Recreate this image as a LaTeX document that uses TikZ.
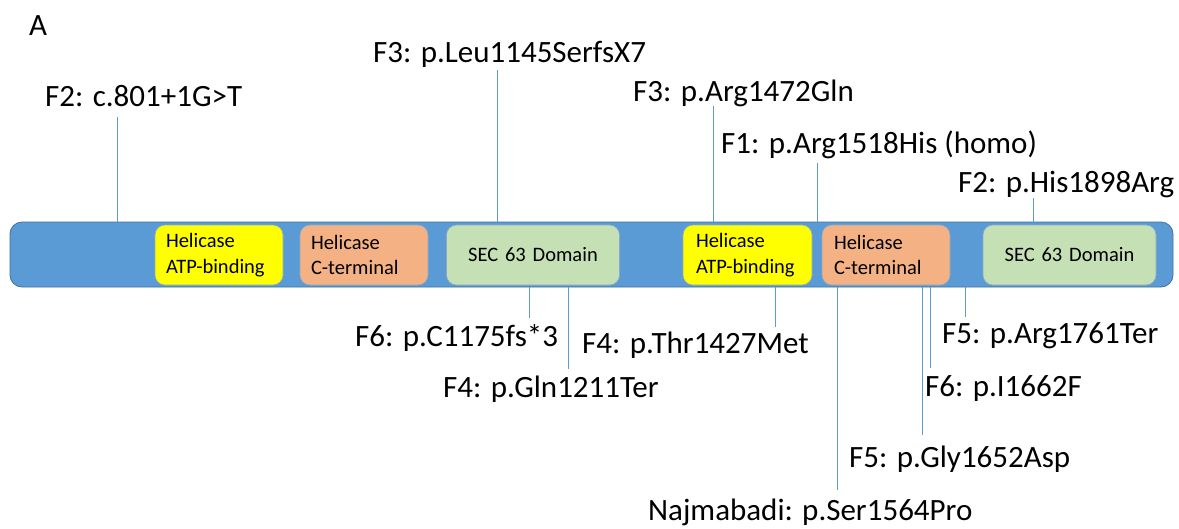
\documentclass[tikz,border=0pt]{standalone}
\usepackage{fontspec}
\setmainfont{Carlito}
\usepackage{xcolor}
\usepackage{tikz}
\usetikzlibrary{positioning}
\definecolor{barblue}{HTML}{5B9BD5}
\definecolor{barline}{HTML}{41719C}
\definecolor{helyellow}{HTML}{FFFF00}
\definecolor{helorange}{HTML}{F4B183}
\definecolor{secgreen}{HTML}{C5E0B4}

\begin{document}
\begin{tikzpicture}[x=1pt,y=-1pt]
\tikzstyle{mut} = [inner sep=0pt, anchor=base west, font=\fontsize{31}{36}\selectfont]
\tikzstyle{dom} = [draw=barline!60, line width=.6pt, rounded corners=10pt, minimum height=60pt, inner ysep=0pt, font=\fontsize{20.5}{25.5}\selectfont]
\tikzstyle{helbox} = [dom, align=left, inner xsep=11pt, text width=106pt]
\tikzstyle{secbox} = [dom, align=center, inner xsep=0pt, text width=173pt]
\tikzstyle{stem} = [barblue, line width=.9pt]
\useasboundingbox (0,0) rectangle (1179,528);

  \node (panel) [font=\fontsize{31}{36}\selectfont, inner sep=0pt, anchor=base west] at (29,35) {A};

  % protein bar
  \draw [fill=barblue, draw=barline, line width=.8pt, rounded corners=12pt] (10,222) rectangle (1173,287);
  \node (bar) [inner sep=0pt, minimum width=1163pt, minimum height=65pt] at (591.5,254.5) {};

  % domains
  \draw
  node (atp1) [helbox, fill=helyellow] at (219,255) {Helicase\\ATP-binding}
  node (ct1) [helbox, fill=helorange] at (364,255) {Helicase\\C-terminal}
  node (sec1) [secbox, fill=secgreen] at (533,255) {SEC 63 Domain}
  node (atp2) [helbox, fill=helyellow, inner xsep=13pt, text width=103pt] at (747.5,255) {Helicase\\ATP-binding}
  node (ct2) [helbox, fill=helorange, inner xsep=12pt, text width=104pt] at (886,255) {Helicase\\C-terminal}
  node (sec2) [secbox, fill=secgreen] at (1069.5,255) {SEC 63 Domain};

  % mutations above the bar
  \draw
  node (m1) [mut] at (45,106) {F2: c.801+1G>T}
  node (m2) [mut] at (373,62) {F3: p.Leu1145SerfsX7}
  node (m3) [mut] at (633,101) {F3: p.Arg1472Gln}
  node (m4) [mut] at (721,153) {F1: p.Arg1518His (homo)}
  node (m5) [mut] at (958,192) {F2: p.His1898Arg};

  % mutations below the bar
  \draw
  node (m6) [mut] at (355,346) {F6: p.C1175fs*3}
  node (m7) [mut] at (443,397) {F4: p.Gln1211Ter}
  node (m8) [mut] at (582,353) {F4: p.Thr1427Met}
  node (m9) [mut] at (648,520) {Najmabadi: p.Ser1564Pro}
  node (m10) [mut] at (849,467) {F5: p.Gly1652Asp}
  node (m11) [mut] at (925,396) {F6: p.I1662F}
  node (m12) [mut] at (942,343) {F5: p.Arg1761Ter};

  % sites on the bar and free ends of the stems
  \coordinate (s1) at (117,222);   \coordinate (t1) at (117,117);
  \coordinate (s2) at (497,222);   \coordinate (t2) at (497,70);
  \coordinate (s3) at (713,222);   \coordinate (t3) at (713,106);
  \coordinate (s4) at (817,222);   \coordinate (t4) at (817,163);
  \coordinate (s5) at (1033,225);  \coordinate (t5) at (1033,198);
  \coordinate (s6) at (529,287);   \coordinate (t6) at (529,318);
  \coordinate (s7) at (568,287);   \coordinate (t7) at (568,369);
  \coordinate (s8) at (775,287);   \coordinate (t8) at (775,327);
  \coordinate (s9) at (837,287);   \coordinate (t9) at (837,490);
  \coordinate (s10) at (922,287);  \coordinate (t10) at (922,435);
  \coordinate (s11) at (930,287);  \coordinate (t11) at (930,368);
  \coordinate (s12) at (965,287);  \coordinate (t12) at (965,317);

  \foreach \i in {1,...,12}
    \draw [stem] (s\i) -- (t\i);
\end{tikzpicture}
\end{document}
